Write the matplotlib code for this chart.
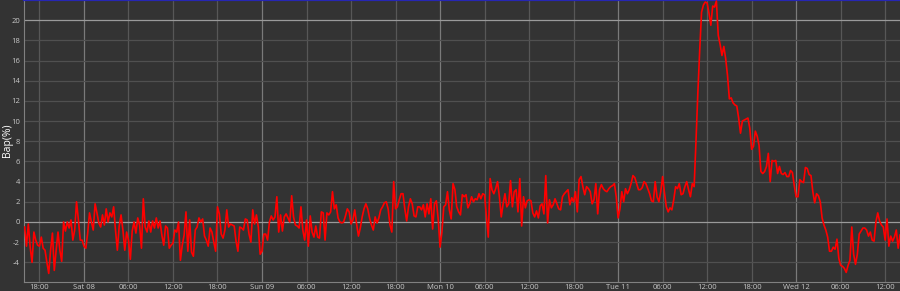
import numpy as np
import pandas as pd
import matplotlib
matplotlib.use("Agg")
import matplotlib.pyplot as plt
import matplotlib.dates as mdates
from matplotlib import rcParams
from matplotlib.ticker import FuncFormatter, FixedLocator

# Set the global font and size
rcParams['font.family'] = ['Open Sans', 'DejaVu Sans']
rcParams['xtick.labelsize'] = 5.5
rcParams['ytick.labelsize'] = 5.5

# Bap(%) readings, every 15 minutes, Fri 07 16:00 -> Wed 12 14:00
bap_fri_sat = [
    -0.5, -2.4, -0.2, -2.5, -4.0, -1.0, -1.8, -2.3, -2.4, -1.5, -2.6, -2.8, -4.0, -5.1, -2.8, -1.1,
    -4.8, -2.8, -1.0, -2.8, -3.9, 0.0, -0.9, 0.0, -0.6, 0.2, -1.8, -0.8, 2.0, 0.2, -1.8, -1.8,
    -2.4, -2.6, -1.1, 0.9, 0.0, -0.8, 1.8, 0.9, -0.1, -0.5, 0.7, -0.3, 1.3, 0.0, 0.9, 0.5,
    1.5, -0.8, -2.8, -0.4, 0.7, -0.8, -2.8, -1.0, -1.8, -3.7, -0.9, 0.0, -1.1, 0.4, -0.3, -2.6,
    2.3, -0.5, -1.0, 0.1,
]
bap_sat = [
    -1.0, 0.1, -0.6, 0.4, -0.6, 0.1, -1.3, -2.3, -0.4, -0.6, -2.6, -2.3, -2.1, -0.8, -1.0, 0.0,
    -3.8, -2.3, -1.3, 1.0, -2.9, 0.2, -3.0, -3.4, -0.8, -0.5, 0.4, 0.0, 0.3, -1.4, -1.8, -2.4,
    -0.6, -1.0, -2.0, -2.9, 1.5, 0.8, -1.2, -1.6, -0.8, 1.2, -0.5, -0.2, -0.3, -0.4, -1.9, -2.9,
    -0.5, -0.6, -0.8, 0.3, 0.2, -1.2, -2.0, 1.2, -0.2, 0.7, -0.5, -3.2, -2.9, -1.2, -1.2, -1.8,
    0.0, 0.6, 0.2, 0.5,
]
bap_sun = [
    2.5, -1.0, 0.7, -0.9, 0.5, 0.8, 0.4, 0.0, 2.6, 0.5, -0.3, -0.4, -0.6, 1.5, -0.8, -1.8,
    0.2, -2.4, 0.6, -1.0, -1.5, -0.4, -1.5, -1.6, 1.0, 0.9, -1.8, 0.9, 0.7, 1.0, 3.0, 1.3,
    1.7, 0.4, 0.0, -0.1, 0.0, 0.6, 1.3, 1.0, -0.2, 0.2, 1.2, -0.2, -1.4, -0.6, 0.5, 1.3,
    1.8, 1.3, 0.4, -0.3, -0.8, 0.5, -0.1, 0.4, 1.2, 1.5, 1.9, 2.0, 1.3, -0.3, -1.0, 4.0,
    1.3, 1.5, 2.2, 2.8,
]
bap_mon = [
    2.8, 1.3, 0.1, 1.5, 2.3, 1.8, 0.6, 0.5, 1.5, 1.5, 1.2, 1.7, 0.5, 1.8, 0.8, 2.3,
    -0.7, 1.8, 2.1, 0.3, -2.5, -1.0, 1.5, 1.7, 3.0, 1.2, 0.3, 3.8, 3.2, 1.5, 1.0, 0.7,
    2.7, 2.5, 2.7, 1.4, 1.8, 2.5, 2.0, 2.3, 2.2, 2.8, 2.3, 2.8, 2.7, 0.5, -1.5, 4.3,
    3.2, 2.8, 3.3, 4.0, 2.5, 0.5, 1.8, 2.8, 1.5, 1.8, 4.1, 1.5, 3.0, 3.2, 1.0, 4.3,
    -0.4, 2.5, 1.4, 2.1,
]
bap_mon_tue = [
    2.2, 2.1, 0.9, 0.5, 1.1, 0.4, 1.6, 1.8, 0.8, 4.6, -0.1, 2.2, 1.4, 1.7, 2.3, 1.8,
    1.3, 1.2, 2.5, 2.8, 3.0, 3.2, 1.7, 2.4, 2.0, 3.0, 1.0, 4.2, 4.5, 3.5, 2.7, 3.5,
    3.3, 3.0, 1.8, 2.2, 3.8, 0.8, 3.2, 3.7, 3.3, 3.1, 3.0, 3.3, 3.5, 3.6, 3.8, 2.5,
    0.4, 1.3, 3.0, 2.0, 3.3, 2.8, 3.2, 3.8, 4.6, 4.4, 3.8, 3.2, 3.2, 3.4, 4.0, 3.8,
    3.3, 2.8, 2.1, 2.0,
]
bap_tue = [
    4.0, 2.5, 2.0, 3.0, 4.5, 2.9, 1.5, 1.0, 1.4, 1.2, 2.2, 3.5, 3.3, 3.8, 2.7, 2.8,
    3.5, 4.0, 3.2, 2.5, 3.8, 3.5, 8.0, 12.8, 17.0, 20.8, 21.5, 21.8, 21.7, 20.7, 19.5, 21.4,
    21.3, 21.9, 18.5, 17.6, 16.5, 17.4, 16.2, 14.5, 12.2, 12.3, 11.8, 11.6, 11.5, 10.3, 8.8, 10.0,
    10.1, 10.2, 10.3, 9.3, 7.2, 7.5, 9.0, 8.5, 7.6, 5.0, 4.8, 5.0, 5.5, 6.8, 4.0, 6.1,
    6.0, 6.1, 4.8, 5.5,
]
bap_wed = [
    4.8, 4.7, 4.9, 4.5, 4.5, 5.1, 4.9, 3.6, 2.5, 2.5, 4.2, 4.0, 3.9, 5.4, 5.3, 4.7,
    4.6, 3.0, 1.9, 2.8, 2.6, 2.0, 0.4, -0.3, -0.8, -1.5, -2.9, -2.9, -2.5, -2.7, -1.7, -3.6,
    -4.3, -4.4, -4.6, -5.0, -4.3, -3.8, -0.5, -3.2, -4.2, -3.2, -1.2, -0.9, -0.6, -0.6, -0.8, -1.4,
    -1.0, -1.8, -1.9, 0.0, 0.9, 0.1, -0.3, -0.5, -1.8, 0.3, -2.4, -1.4, -1.9, -1.5, -0.8, -2.6,
    -1.3,
]

# y tick values shown on the left axis
y_major = [0, 20]
y_minor = [-4, -2, 2, 4, 6, 8, 10, 12, 14, 16, 18]

bap = bap_fri_sat + bap_sat + bap_sun + bap_mon + bap_mon_tue + bap_tue + bap_wed
times = pd.date_range("2020-02-07 16:00", periods=len(bap), freq="15min")

bg = '#333333'
fig = plt.figure(figsize=(9.0, 2.91), dpi=100, facecolor=bg)
ax = fig.add_axes([24 / 900, 9 / 291, 1 - 24 / 900, 282 / 291], facecolor=bg)

ax.plot(times, bap, color='#ff0000', linewidth=1.2, zorder=3)

ax.set_xlim(pd.Timestamp("2020-02-07 15:55"), pd.Timestamp("2020-02-12 14:00"))
ax.set_ylim(-5.95, 22.0)

# y axis: labels every 2, brighter lines at 0 and 20
ax.yaxis.set_major_locator(FixedLocator(y_major))
ax.yaxis.set_minor_locator(FixedLocator(y_minor))
ax.yaxis.set_major_formatter(FuncFormatter(lambda v, p: f'{v:.0f}'))
ax.yaxis.set_minor_formatter(FuncFormatter(lambda v, p: f'{v:.0f}'))
ax.grid(True, which='major', axis='y', color='#9a9a9a', linewidth=0.9)
ax.grid(True, which='minor', axis='y', color='#505050', linewidth=0.9)

# x axis: every 6 hours, day lines brighter
ax.xaxis.set_major_locator(mdates.HourLocator(byhour=[0]))
ax.xaxis.set_minor_locator(mdates.HourLocator(byhour=[6, 12, 18]))
ax.xaxis.set_major_formatter(mdates.DateFormatter('%a %d'))
ax.xaxis.set_minor_formatter(mdates.DateFormatter('%H:%M'))
ax.grid(True, which='major', axis='x', color='#7a7a7a', linewidth=0.9)
ax.grid(True, which='minor', axis='x', color='#575757', linewidth=0.9)

ax.tick_params(which='both', length=0, colors='#c8c8c8', labelsize=5.5)
ax.tick_params(axis='x', which='both', pad=1.5)
ax.tick_params(axis='y', which='both', pad=3)

for side in ['left', 'bottom']:
    ax.spines[side].set_color('#808080')
    ax.spines[side].set_linewidth(0.8)
ax.spines['right'].set_visible(False)
ax.spines['top'].set_color('#2626b4')
ax.spines['top'].set_linewidth(1.6)

fig.text(8 / 900, 1 - 140 / 291, 'Bap(%)', rotation=90, color='white', fontsize=7.5,
         ha='center', va='center')

plt.savefig('out.png', dpi=100, facecolor=bg)
